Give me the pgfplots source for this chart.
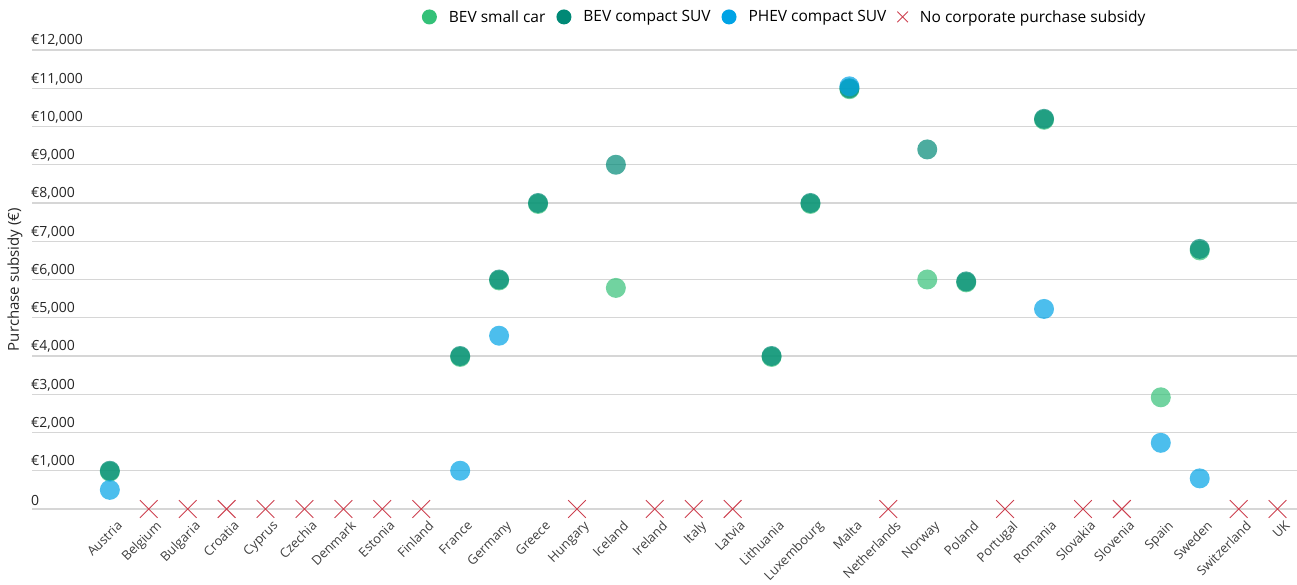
\documentclass[border=0pt]{standalone}
\usepackage{pgfplots}
\pgfplotsset{compat=1.18}
\usepackage{fontspec}
\setmainfont{Open Sans}
\definecolor{bevsmall}{RGB}{52,193,120}
\definecolor{bevsuv}{RGB}{0,137,118}
\definecolor{phev}{RGB}{0,163,229}
\definecolor{nosub}{RGB}{205,65,80}
\newcommand{\xf}{\fontsize{13}{15}\selectfont}
\newcommand{\yf}{\fontsize{14}{16}\selectfont}
\newcommand{\ylf}{\fontsize{15}{17}\selectfont}
\newcommand{\lgf}{\fontsize{15.5}{18}\selectfont}
\begin{document}
\begin{tikzpicture}
\path[use as bounding box] (0,0) rectangle (1297pt,585pt);
\begin{axis}[
  at={(32pt,76pt)}, anchor=south west,
  scale only axis, width=1265pt, height=459pt,
  xmin=-2, xmax=30.5, ymin=0, ymax=12000,
  clip=false,
  scaled y ticks=false,
  axis line style={draw=none},
  major tick length=0pt,
  ymajorgrids, grid style={color=black!16, line width=1.1pt},
  xtick={0,...,30},
  xticklabels={Austria,Belgium,Bulgaria,Croatia,Cyprus,Czechia,Denmark,Estonia,Finland,France,Germany,Greece,Hungary,Iceland,Ireland,Italy,Latvia,Lithuania,Luxembourg,Malta,Netherlands,Norway,Poland,Portugal,Romania,Slovakia,Slovenia,Spain,Sweden,Switzerland,UK},
  xticklabel style={rotate=45, anchor=north east, font=\xf, text=black!75, inner sep=0pt, xshift=-3pt, yshift=-12pt},
  ytick={0,1000,...,12000},
  yticklabels={0,{€1,000},{€2,000},{€3,000},{€4,000},{€5,000},{€6,000},{€7,000},{€8,000},{€9,000},{€10,000},{€11,000},{€12,000}},
  yticklabel style={anchor=south west, font=\yf, text=black!85, inner sep=3pt, xshift=-4pt},
  ylabel={Purchase subsidy (€)},
  ylabel style={at={(rel axis cs:-0.0134,0.5)}, anchor=center, font=\ylf, text=black!85},
  legend columns=4,
  legend style={at={(0.595,1.072)}, anchor=center, draw=none, fill=none, font=\lgf,
    /tikz/every odd column/.append style={column sep=10pt},
    /tikz/every even column/.append style={column sep=9pt}},
  legend image post style={mark size=7.5pt, fill opacity=1},
]
\addplot[only marks, mark=*, mark size=10pt, draw=none, fill=bevsmall, fill opacity=0.7, draw opacity=0] coordinates {
(0,975) (9,3975) (10,5975) (11,7975) (13,5780) (17,3975) (18,7975) (19,10975) (21,6000) (22,5925) (24,10175) (27,2920) (28,6760)};
\addlegendentry{BEV small car}
\addplot[only marks, mark=*, mark size=10pt, draw=none, fill=bevsuv, fill opacity=0.7, draw opacity=0] coordinates {
(0,1000) (9,4000) (10,6000) (11,8000) (13,9000) (17,4000) (18,8000) (19,11000) (21,9400) (22,5950) (24,10200) (28,6800)};
\addlegendentry{BEV compact SUV}
\addplot[only marks, mark=*, mark size=10pt, draw=none, fill=phev, fill opacity=0.7, draw opacity=0] coordinates {
(0,500) (9,1000) (10,4530) (19,11050) (24,5230) (27,1730) (28,800)};
\addlegendentry{PHEV compact SUV}
\addplot[only marks, mark=x, mark size=12.5pt, color=nosub, line width=0.9pt] coordinates {
(1,0) (2,0) (3,0) (4,0) (5,0) (6,0) (7,0) (8,0) (12,0) (14,0) (15,0) (16,0) (20,0) (23,0) (25,0) (26,0) (29,0) (30,0)};
\addlegendentry{No corporate purchase subsidy}
\end{axis}
\end{tikzpicture}
\end{document}
